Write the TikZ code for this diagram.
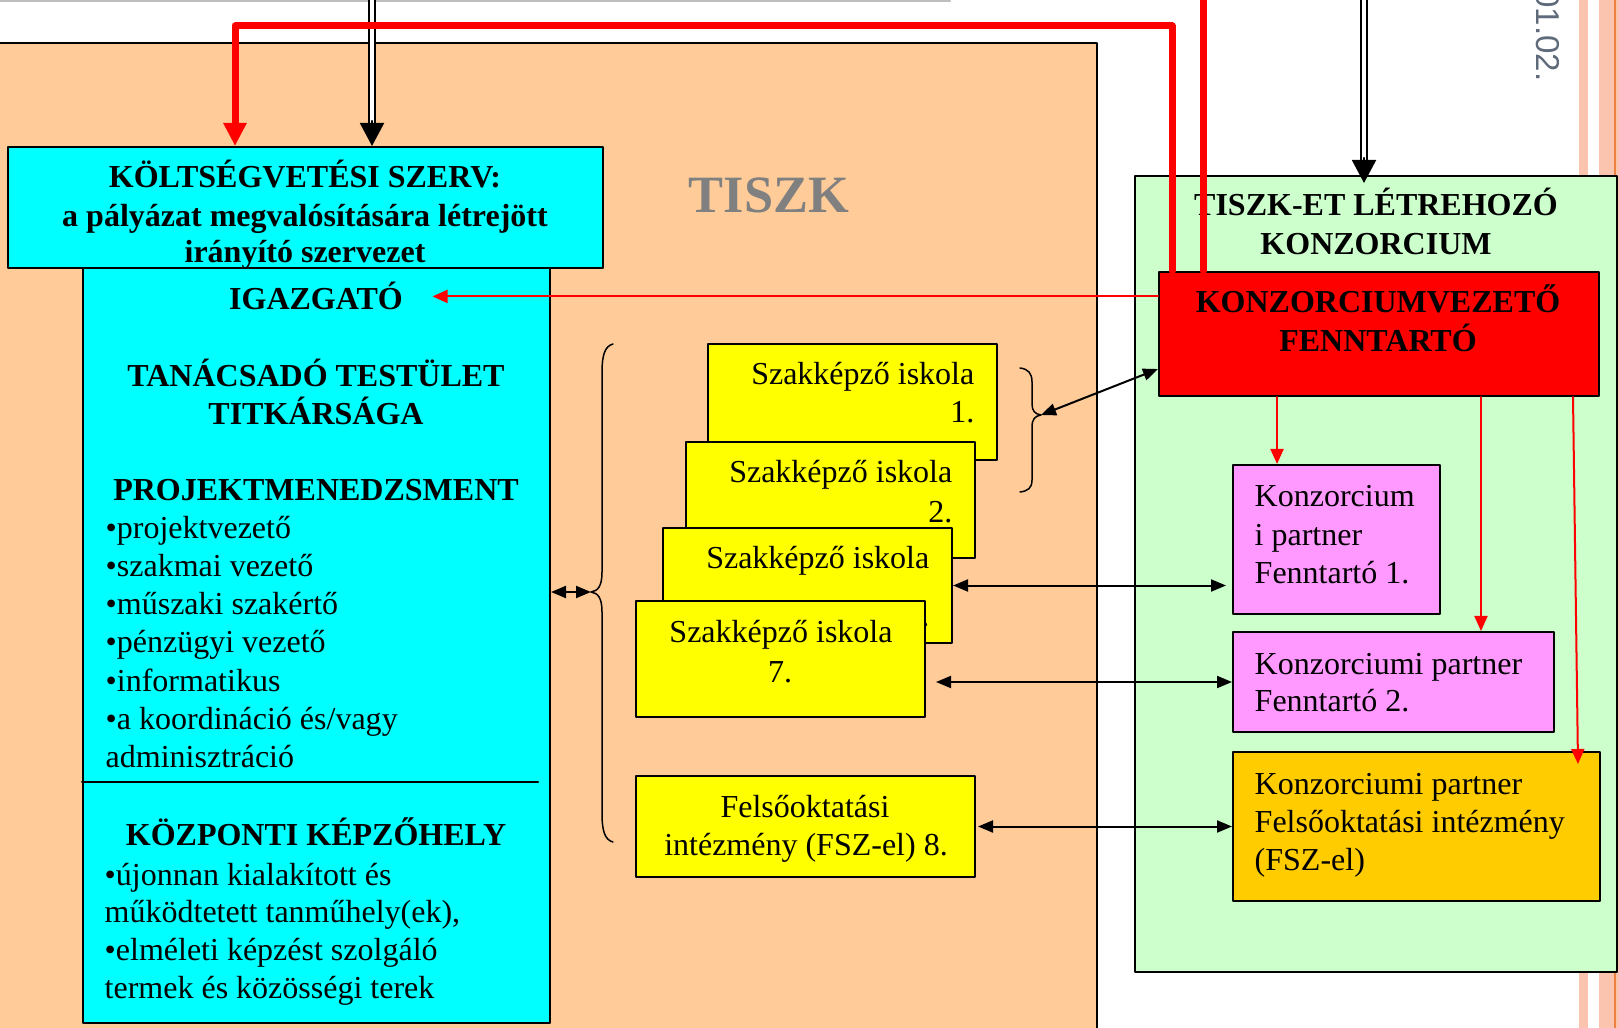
\documentclass[tikz,border=0pt]{standalone}
\usepackage{fontspec}
\setmainfont{Liberation Serif}
\newfontfamily\datefont{Liberation Sans}
\usetikzlibrary{arrows.meta,fit}
\definecolor{peach}{RGB}{255,204,153}
\definecolor{aqua}{RGB}{0,255,255}
\definecolor{lemon}{RGB}{255,255,0}
\definecolor{mint}{RGB}{204,255,204}
\definecolor{orchid}{RGB}{255,153,255}
\definecolor{gold}{RGB}{255,204,0}
\definecolor{stripe}{RGB}{250,196,174}
\definecolor{stripeline}{RGB}{240,128,64}
\definecolor{dategrey}{RGB}{95,107,122}
\definecolor{topline}{RGB}{190,190,190}

\tikzset{
  box/.style={draw=black, line width=0.02cm, inner sep=0pt},
  txt/.style={inner sep=0pt, anchor=base, font=\fontsize{9.1}{10.9}\selectfont},
  txtl/.style={txt, anchor=base west},
  txtr/.style={txt, anchor=base east},
  hd/.style={txt, font=\fontsize{9.1}{10.9}\selectfont\bfseries},
  arr/.style={line width=0.02cm, {Triangle[length=0.15cm,width=0.12cm]}-{Triangle[length=0.15cm,width=0.12cm]}},
  redarr/.style={draw=red, line width=0.02cm, -{Triangle[length=0.15cm,width=0.13cm]}},
  redbold/.style={draw=red, line width=0.07cm},
  dblline/.style={line width=0.02cm, double, double distance=0.035cm},
}

\begin{document}
\begin{tikzpicture}[x=0.01cm, y=-0.01cm, line cap=round, line join=round]
  \useasboundingbox (0,0) rectangle (1619,1028);
  \clip (0,0) rectangle (1619,1028);
  \draw[topline, line width=0.02cm] (0,1) -- (950,1);
  \fill[stripe] (1579,-10) rectangle (1588,1040);
  \fill[stripe] (1599,-10) rectangle (1619,1040);
  \draw[stripeline, line width=0.015cm] (1615,-10) -- (1615,1040);
  \node[rotate=-90, anchor=base east, inner sep=0pt, text=dategrey,
        font=\datefont\fontsize{9.4}{11}\selectfont] (date) at (1536,82) {01.02.};

  \node[box, fill=peach, fit={(-10,43) (1097,1040)}] (tiszk) {};
  \node[txt, font=\fontsize{14.9}{18}\selectfont\bfseries, text=gray] (tiszkt) at (769,213) {TISZK};

  \node[box, fill=aqua, fit={(8,147) (603,268)}] (ksz) {};
  \node[box, fill=aqua, fit={(83,268) (550,1023)}] (igb) {};
  \node[hd] (ksz1) at (305,188) {KÖLTSÉGVETÉSI SZERV:};
  \node[hd] (ksz2) at (305,227) {a pályázat megvalósítására létrejött};
  \node[hd] (ksz3) at (305,263) {irányító szervezet};
  \node[hd] (igz) at (316,310) {IGAZGATÓ};
  \node[hd] (tt1) at (316,387) {TANÁCSADÓ TESTÜLET};
  \node[hd] (tt2) at (316,425) {TITKÁRSÁGA};
  \node[hd] (pm) at (316,501) {PROJEKTMENEDZSMENT};
  \foreach \t [count=\i from 0] in {•projektvezető, •szakmai vezető, •műszaki szakértő,
      •pénzügyi vezető, •informatikus, •a koordináció és/vagy, adminisztráció}
    \node[txtl] (pm\i) at (105,538+38.33*\i) {\t};
  \coordinate (dv) at (538,782);
  \draw[line width=0.02cm] (dv -| igb.west) -- (dv);
  \node[hd] (kk) at (316,845) {KÖZPONTI KÉPZŐHELY};
  \foreach \t [count=\i from 0] in {•újonnan kialakított és, {működtetett tanműhely(ek),},
      •elméleti képzést szolgáló, termek és közösségi terek}
    \node[txtl] (kk\i) at (104,885+37.7*\i) {\t};

  \node[box, fill=lemon, fit={(708,344) (997,460)}] (isk1) {};
  \node[txtr] (isk1a) at (975,385) {Szakképző iskola};
  \node[txtr] (isk1b) at (975,423) {1.};
  \node[box, fill=lemon, fit={(686,442) (975,558)}] (isk2) {};
  \node[txtr] (isk2a) at (953,483) {Szakképző iskola};
  \node[txtr] (isk2b) at (953,522) {2.};
  \node[box, fill=lemon, fit={(663,528) (952,643)}] (isk3) {};
  \node[txtr] (isk3a) at (930,568) {Szakképző iskola};
  \node[txtr] (isk3b) at (930,626) {3.};
  \node[box, fill=lemon, fit={(636,601) (925,717)}] (isk7) {};
  \node[txt] (isk7a) at (781,642) {Szakképző iskola};
  \node[txt] (isk7b) at (780,682) {7.};
  \node[box, fill=lemon, fit={(636,776) (975,877)}] (fsz) {};
  \node[txt] (fsza) at (805,817) {Felsőoktatási};
  \node[txt] (fszb) at (806,855) {intézmény (FSZ-el) 8.};

  \coordinate (brL) at (591,592);
  \draw[line width=0.015cm] (613,344) .. controls (605,346) and (602,355) .. (602,372)
    -- (602,572) .. controls (602,586) and (598,591) .. (brL)
    .. controls (598,593) and (602,598) .. (602,612)
    -- (602,814) .. controls (602,831) and (605,840) .. (613,842);
  \coordinate (brR) at (1041,415);
  \draw[line width=0.015cm] (1020,368) .. controls (1028,369) and (1032,373) .. (1032,382)
    -- (1032,404) .. controls (1032,411) and (1035,414) .. (brR)
    .. controls (1035,416) and (1032,419) .. (1032,427)
    -- (1032,480) .. controls (1032,488) and (1028,491) .. (1020,492);

  \node[box, fill=mint, fit={(1135,176) (1617,972)}] (kons) {};
  \node[hd] (kons1) at (1376,216) {TISZK-ET LÉTREHOZÓ};
  \node[hd] (kons2) at (1376,255) {KONZORCIUM};
  \node[box, fill=red, fit={(1159,272) (1599,396)}] (kv) {};
  \node[hd] (kv1) at (1378,313) {KONZORCIUMVEZETŐ};
  \node[hd] (kv2) at (1378,352) {FENNTARTÓ};
  \node[box, fill=orchid, fit={(1233,465) (1440,614)}] (p1) {};
  \node[txtl] (p1a) at (1254,507) {Konzorcium};
  \node[txtl] (p1b) at (1254,545) {i partner};
  \node[txtl] (p1c) at (1254,583) {Fenntartó 1.};
  \node[box, fill=orchid, fit={(1233,632) (1554,732)}] (p2) {};
  \node[txtl] (p2a) at (1254,674) {Konzorciumi partner};
  \node[txtl] (p2b) at (1254,711) {Fenntartó 2.};
  \node[box, fill=gold, fit={(1233,752) (1600,901)}] (p3) {};
  \node[txtl] (p3a) at (1254,794) {Konzorciumi partner};
  \node[txtl] (p3b) at (1254,832) {Felsőoktatási intézmény};
  \node[txtl] (p3c) at (1254,870) {(FSZ-el)};

  \coordinate (in1) at (372,-10);
  \coordinate (k1) at (in1 |- ksz.north);
  \draw[dblline, shorten >=0.2cm] (in1) -- (k1);
  \draw[line width=0.02cm, -{Triangle[length=0.23cm,width=0.24cm]}] ([yshift=0.25cm]k1) -- (k1);
  \coordinate (in2) at (1364,-10);
  \coordinate (k2) at (in2 |- kons.north);
  \draw[dblline, shorten >=0.12cm] (in2) -- ([yshift=-0.08cm]k2);
  \draw[line width=0.02cm, -{Triangle[length=0.23cm,width=0.24cm]}] ([yshift=0.17cm]k2) -- ([yshift=-0.08cm]k2);

  \coordinate (rA) at (1172,26);
  \coordinate (rB) at (235,26);
  \coordinate (rC) at (1203,-10);
  \draw[redbold, -{Triangle[length=0.23cm,width=0.22cm]}] (rA |- kv.north) -- (rA) -- (rB) -- (rB |- ksz.north);
  \draw[redbold] (rC) -- (rC |- kv.north);
  \draw[redarr] (kv.west |- igz.east) -- ([xshift=0.29cm]igz.east);

  \coordinate (d1) at ([xshift=0.45cm]p1.north west);
  \coordinate (d2) at ([xshift=-0.74cm]p2.north east);
  \coordinate (d3) at ([xshift=-0.23cm,yshift=-0.13cm]p3.north east);
  \draw[redarr] (d1 |- kv.south) -- (d1);
  \draw[redarr] (d2 |- kv.south) -- (d2);
  \draw[redarr] ([xshift=-0.27cm]kv.south east) -- (d3);

  \draw[arr] (igb.east |- brL) -- (brL);
  \draw[arr] (brR) -- ([yshift=-0.35cm]kv.west);
  \draw[arr, shorten >=0.06cm] (isk3.east) -- (isk3.east -| p1.west);
  \draw[arr, shorten <=0.1cm] (p2.west -| isk7.east) -- (p2.west);
  \draw[arr, shorten <=0.02cm] (fsz.east) -- (p3.west);
\end{tikzpicture}
\end{document}
